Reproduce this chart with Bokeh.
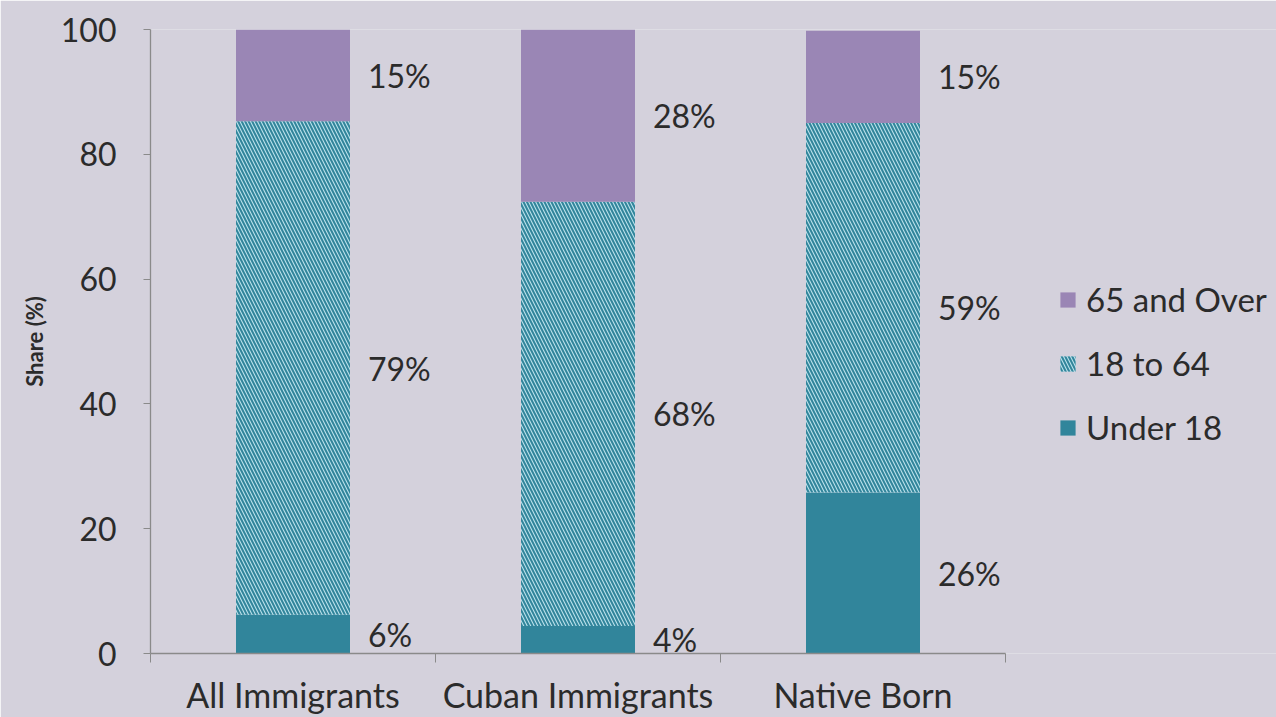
from bokeh.plotting import figure
from bokeh.models import ColumnDataSource, FixedTicker, Legend, LegendItem, Range1d
from bokeh.embed import file_html
from bokeh.resources import INLINE
from bokeh.core.properties import value

categories = ["All Immigrants", "Cuban Immigrants", "Native Born"]
under_18 = [6.2, 4.4, 25.8]
age_18_64 = [79.1, 68.0, 59.2]
over_65 = [14.7, 27.6, 14.8]
series_names = ["Under 18", "18 to 64", "65 and Over"]
y_ticks = [0, 20, 40, 60, 80, 100]

BG = "#d4d1dc"
PURPLE = "#9a86b5"
TEAL = "#31859b"
LIGHTBLUE = "#b9e0ea"
TEXT = "#2b2b2b"
FONT = "Lato"

W, H = 1276, 717
LEFT, TOP, BOTTOM = 150, 29, 64
CAT_RIGHT = 1005  # pixel where the category area ends; the rest of the frame holds the legend

n = len(categories)
x_end = n * (W - LEFT) / (CAT_RIGHT - LEFT)

p = figure(width=W, height=H, output_backend="svg", toolbar_location=None,
           x_range=Range1d(0, x_end), y_range=Range1d(0, 100),
           min_border_left=LEFT, min_border_top=TOP, min_border_bottom=BOTTOM, min_border_right=0)
p.background_fill_color = BG
p.border_fill_color = BG
p.outline_line_color = None
p.grid.visible = False

centers = [i + 0.5 for i in range(n)]
series = [under_18, age_18_64, over_65]
bottoms = [0.0] * n
renderers = []
label_x, label_y, label_t = [], [], []
for k, vals in enumerate(series):
    tops = [b + v for b, v in zip(bottoms, vals)]
    src = ColumnDataSource(dict(x=centers, bottom=bottoms, top=tops))
    if k == 0:
        r = p.vbar(x="x", bottom="bottom", top="top", width=0.4, source=src,
                   fill_color=TEAL, line_color=None)
    elif k == 1:
        r = p.vbar(x="x", bottom="bottom", top="top", width=0.4, source=src,
                   fill_color=LIGHTBLUE, line_color=None, hatch_pattern="\\",
                   hatch_color=TEAL, hatch_scale=7, hatch_weight=2)
    else:
        r = p.vbar(x="x", bottom="bottom", top="top", width=0.4, source=src,
                   fill_color=PURPLE, line_color=None)
    renderers.append(r)
    for c, b, t, v in zip(centers, bottoms, tops, vals):
        label_x.append(c + 0.2)
        label_y.append((b + t) / 2)
        label_t.append(f"{round(v)}%")
    bottoms = tops

p.text(x=label_x, y=label_y, text=label_t, x_offset=18, text_align="left",
       text_baseline="middle", text_font=value(FONT), text_font_size="32px",
       text_color=TEXT)

# y axis
ya = p.yaxis[0]
ya.ticker = FixedTicker(ticks=y_ticks)
ya.axis_label = "Share (%)"
ya.axis_label_text_font = FONT
ya.axis_label_text_font_style = "bold"
ya.axis_label_text_font_size = "22px"
ya.axis_label_text_color = TEXT
ya.axis_label_standoff = 10
ya.major_label_text_font = FONT
ya.major_label_text_font_size = "32px"
ya.major_label_text_color = TEXT
ya.major_tick_out = 7
ya.major_tick_in = 0
ya.minor_tick_out = 0
ya.minor_tick_in = 0
ya.major_label_standoff = 27
ya.axis_line_color = "#8a8a8a"
ya.major_tick_line_color = "#8a8a8a"
ya.axis_line_width = 1.3

# x axis
xa = p.xaxis[0]
xa.bounds = (0, n)
xa.ticker = FixedTicker(ticks=centers, minor_ticks=list(range(n + 1)))
xa.major_label_overrides = {c: name for c, name in zip(centers, categories)}
xa.major_label_text_font = FONT
xa.major_label_text_font_size = "34px"
xa.major_label_text_color = TEXT
xa.major_tick_out = 0
xa.major_tick_in = 0
xa.minor_tick_out = 9
xa.minor_tick_in = 0
xa.major_label_standoff = 11
xa.axis_line_color = "#8a8a8a"
xa.minor_tick_line_color = "#8a8a8a"
xa.axis_line_width = 1.3

legend = Legend(items=[LegendItem(label=series_names[i], renderers=[renderers[i]]) for i in (2, 1, 0)],
                location=(908, 206))
legend.background_fill_alpha = 0
legend.border_line_color = None
legend.label_text_font = FONT
legend.label_text_font_size = "33px"
legend.label_text_color = TEXT
legend.glyph_width = 19
legend.glyph_height = 19
legend.label_standoff = 9
legend.spacing = 24
legend.padding = 10
legend.margin = 0
p.add_layout(legend, "center")

open("out.html", "w").write(file_html(p, INLINE))
